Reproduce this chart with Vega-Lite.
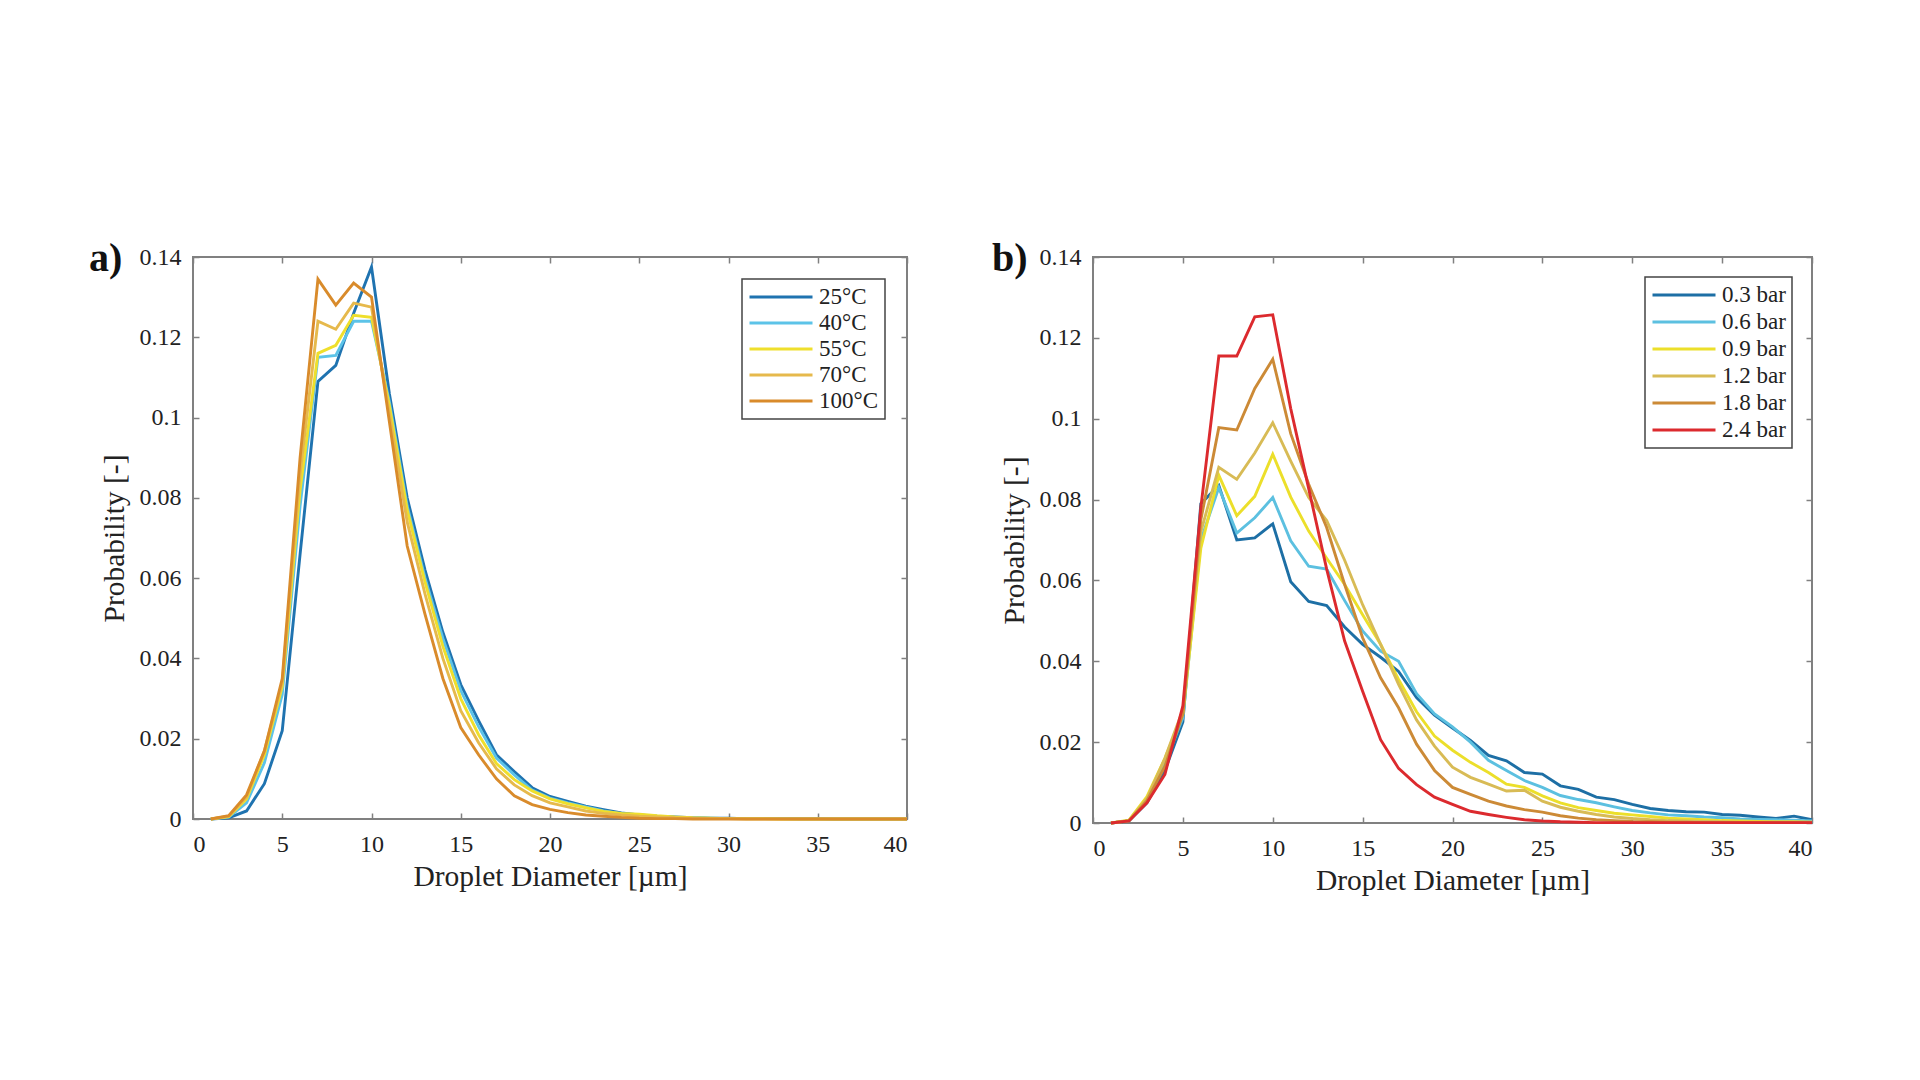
{
  "$schema": "https://vega.github.io/schema/vega-lite/v6.json",
  "background": "white",
  "padding": {"left": 88, "top": 238, "right": 0, "bottom": 0},
  "spacing": 77,
  "resolve": {"scale": {"color": "independent"}, "legend": {"color": "independent"}},
  "datasets": {
    "temp": [
      {"d":1,"p":0,"s":"25°C"},{"d":2,"p":0.0003,"s":"25°C"},{"d":3,"p":0.002,"s":"25°C"},{"d":4,"p":0.0088,"s":"25°C"},{"d":5,"p":0.022,"s":"25°C"},
      {"d":6,"p":0.066,"s":"25°C"},{"d":7,"p":0.109,"s":"25°C"},{"d":8,"p":0.113,"s":"25°C"},{"d":9,"p":0.126,"s":"25°C"},{"d":10,"p":0.1375,"s":"25°C"},
      {"d":11,"p":0.106,"s":"25°C"},{"d":12,"p":0.08,"s":"25°C"},{"d":13,"p":0.062,"s":"25°C"},{"d":14,"p":0.0465,"s":"25°C"},{"d":15,"p":0.0335,"s":"25°C"},
      {"d":16,"p":0.0245,"s":"25°C"},{"d":17,"p":0.016,"s":"25°C"},{"d":18,"p":0.0118,"s":"25°C"},{"d":19,"p":0.0078,"s":"25°C"},{"d":20,"p":0.0056,"s":"25°C"},
      {"d":21,"p":0.0044,"s":"25°C"},{"d":22,"p":0.0032,"s":"25°C"},{"d":23,"p":0.0023,"s":"25°C"},{"d":24,"p":0.0015,"s":"25°C"},{"d":25,"p":0.001,"s":"25°C"},
      {"d":26,"p":0.0007,"s":"25°C"},{"d":27,"p":0.0005,"s":"25°C"},{"d":28,"p":0.0003,"s":"25°C"},{"d":29,"p":0.0002,"s":"25°C"},{"d":30,"p":0.0002,"s":"25°C"},
      {"d":31,"p":0.0001,"s":"25°C"},{"d":32,"p":0.0001,"s":"25°C"},{"d":33,"p":0.0001,"s":"25°C"},{"d":34,"p":0.0001,"s":"25°C"},{"d":35,"p":0.0001,"s":"25°C"},
      {"d":36,"p":0,"s":"25°C"},{"d":37,"p":0,"s":"25°C"},{"d":38,"p":0,"s":"25°C"},{"d":39,"p":0,"s":"25°C"},{"d":40,"p":0,"s":"25°C"},

      {"d":1,"p":0,"s":"40°C"},{"d":2,"p":0.0005,"s":"40°C"},{"d":3,"p":0.004,"s":"40°C"},{"d":4,"p":0.014,"s":"40°C"},{"d":5,"p":0.031,"s":"40°C"},
      {"d":6,"p":0.078,"s":"40°C"},{"d":7,"p":0.115,"s":"40°C"},{"d":8,"p":0.1155,"s":"40°C"},{"d":9,"p":0.124,"s":"40°C"},{"d":10,"p":0.124,"s":"40°C"},
      {"d":11,"p":0.104,"s":"40°C"},{"d":12,"p":0.078,"s":"40°C"},{"d":13,"p":0.06,"s":"40°C"},{"d":14,"p":0.045,"s":"40°C"},{"d":15,"p":0.032,"s":"40°C"},
      {"d":16,"p":0.023,"s":"40°C"},{"d":17,"p":0.0152,"s":"40°C"},{"d":18,"p":0.011,"s":"40°C"},{"d":19,"p":0.0072,"s":"40°C"},{"d":20,"p":0.0052,"s":"40°C"},
      {"d":21,"p":0.004,"s":"40°C"},{"d":22,"p":0.003,"s":"40°C"},{"d":23,"p":0.002,"s":"40°C"},{"d":24,"p":0.0013,"s":"40°C"},{"d":25,"p":0.0009,"s":"40°C"},
      {"d":26,"p":0.0006,"s":"40°C"},{"d":27,"p":0.0004,"s":"40°C"},{"d":28,"p":0.0003,"s":"40°C"},{"d":29,"p":0.0002,"s":"40°C"},{"d":30,"p":0.0001,"s":"40°C"},
      {"d":31,"p":0.0001,"s":"40°C"},{"d":32,"p":0.0001,"s":"40°C"},{"d":33,"p":0.0001,"s":"40°C"},{"d":34,"p":0,"s":"40°C"},{"d":35,"p":0,"s":"40°C"},
      {"d":36,"p":0,"s":"40°C"},{"d":37,"p":0,"s":"40°C"},{"d":38,"p":0,"s":"40°C"},{"d":39,"p":0,"s":"40°C"},{"d":40,"p":0,"s":"40°C"},

      {"d":1,"p":0,"s":"55°C"},{"d":2,"p":0.0006,"s":"55°C"},{"d":3,"p":0.005,"s":"55°C"},{"d":4,"p":0.016,"s":"55°C"},{"d":5,"p":0.033,"s":"55°C"},
      {"d":6,"p":0.082,"s":"55°C"},{"d":7,"p":0.116,"s":"55°C"},{"d":8,"p":0.118,"s":"55°C"},{"d":9,"p":0.1255,"s":"55°C"},{"d":10,"p":0.125,"s":"55°C"},
      {"d":11,"p":0.103,"s":"55°C"},{"d":12,"p":0.077,"s":"55°C"},{"d":13,"p":0.059,"s":"55°C"},{"d":14,"p":0.043,"s":"55°C"},{"d":15,"p":0.03,"s":"55°C"},
      {"d":16,"p":0.021,"s":"55°C"},{"d":17,"p":0.0138,"s":"55°C"},{"d":18,"p":0.0098,"s":"55°C"},{"d":19,"p":0.007,"s":"55°C"},{"d":20,"p":0.005,"s":"55°C"},
      {"d":21,"p":0.0038,"s":"55°C"},{"d":22,"p":0.0028,"s":"55°C"},{"d":23,"p":0.0019,"s":"55°C"},{"d":24,"p":0.0014,"s":"55°C"},{"d":25,"p":0.0012,"s":"55°C"},
      {"d":26,"p":0.0008,"s":"55°C"},{"d":27,"p":0.0005,"s":"55°C"},{"d":28,"p":0.0003,"s":"55°C"},{"d":29,"p":0.0002,"s":"55°C"},{"d":30,"p":0.0001,"s":"55°C"},
      {"d":31,"p":0.0001,"s":"55°C"},{"d":32,"p":0.0001,"s":"55°C"},{"d":33,"p":0,"s":"55°C"},{"d":34,"p":0,"s":"55°C"},{"d":35,"p":0,"s":"55°C"},
      {"d":36,"p":0,"s":"55°C"},{"d":37,"p":0,"s":"55°C"},{"d":38,"p":0,"s":"55°C"},{"d":39,"p":0,"s":"55°C"},{"d":40,"p":0,"s":"55°C"},

      {"d":1,"p":0,"s":"70°C"},{"d":2,"p":0.0007,"s":"70°C"},{"d":3,"p":0.0055,"s":"70°C"},{"d":4,"p":0.017,"s":"70°C"},{"d":5,"p":0.034,"s":"70°C"},
      {"d":6,"p":0.086,"s":"70°C"},{"d":7,"p":0.124,"s":"70°C"},{"d":8,"p":0.122,"s":"70°C"},{"d":9,"p":0.1285,"s":"70°C"},{"d":10,"p":0.1275,"s":"70°C"},
      {"d":11,"p":0.101,"s":"70°C"},{"d":12,"p":0.074,"s":"70°C"},{"d":13,"p":0.056,"s":"70°C"},{"d":14,"p":0.04,"s":"70°C"},{"d":15,"p":0.027,"s":"70°C"},
      {"d":16,"p":0.019,"s":"70°C"},{"d":17,"p":0.0125,"s":"70°C"},{"d":18,"p":0.0085,"s":"70°C"},{"d":19,"p":0.0058,"s":"70°C"},{"d":20,"p":0.004,"s":"70°C"},
      {"d":21,"p":0.003,"s":"70°C"},{"d":22,"p":0.002,"s":"70°C"},{"d":23,"p":0.0014,"s":"70°C"},{"d":24,"p":0.001,"s":"70°C"},{"d":25,"p":0.0007,"s":"70°C"},
      {"d":26,"p":0.0005,"s":"70°C"},{"d":27,"p":0.0003,"s":"70°C"},{"d":28,"p":0.0002,"s":"70°C"},{"d":29,"p":0.0001,"s":"70°C"},{"d":30,"p":0.0001,"s":"70°C"},
      {"d":31,"p":0,"s":"70°C"},{"d":32,"p":0,"s":"70°C"},{"d":33,"p":0,"s":"70°C"},{"d":34,"p":0,"s":"70°C"},{"d":35,"p":0,"s":"70°C"},
      {"d":36,"p":0,"s":"70°C"},{"d":37,"p":0,"s":"70°C"},{"d":38,"p":0,"s":"70°C"},{"d":39,"p":0,"s":"70°C"},{"d":40,"p":0,"s":"70°C"},

      {"d":1,"p":0,"s":"100°C"},{"d":2,"p":0.0008,"s":"100°C"},{"d":3,"p":0.006,"s":"100°C"},{"d":4,"p":0.017,"s":"100°C"},{"d":5,"p":0.035,"s":"100°C"},
      {"d":6,"p":0.09,"s":"100°C"},{"d":7,"p":0.1345,"s":"100°C"},{"d":8,"p":0.128,"s":"100°C"},{"d":9,"p":0.1335,"s":"100°C"},{"d":10,"p":0.13,"s":"100°C"},
      {"d":11,"p":0.099,"s":"100°C"},{"d":12,"p":0.068,"s":"100°C"},{"d":13,"p":0.051,"s":"100°C"},{"d":14,"p":0.035,"s":"100°C"},{"d":15,"p":0.0228,"s":"100°C"},
      {"d":16,"p":0.016,"s":"100°C"},{"d":17,"p":0.01,"s":"100°C"},{"d":18,"p":0.0058,"s":"100°C"},{"d":19,"p":0.0036,"s":"100°C"},{"d":20,"p":0.0024,"s":"100°C"},
      {"d":21,"p":0.0016,"s":"100°C"},{"d":22,"p":0.001,"s":"100°C"},{"d":23,"p":0.0007,"s":"100°C"},{"d":24,"p":0.0004,"s":"100°C"},{"d":25,"p":0.0002,"s":"100°C"},
      {"d":26,"p":0.0001,"s":"100°C"},{"d":27,"p":0.0001,"s":"100°C"},{"d":28,"p":0,"s":"100°C"},{"d":29,"p":0,"s":"100°C"},{"d":30,"p":0,"s":"100°C"},
      {"d":31,"p":0,"s":"100°C"},{"d":32,"p":0,"s":"100°C"},{"d":33,"p":0,"s":"100°C"},{"d":34,"p":0,"s":"100°C"},{"d":35,"p":0,"s":"100°C"},
      {"d":36,"p":0,"s":"100°C"},{"d":37,"p":0,"s":"100°C"},{"d":38,"p":0,"s":"100°C"},{"d":39,"p":0,"s":"100°C"},{"d":40,"p":0,"s":"100°C"}
    ],
    "pres": [
      {"d":1,"p":0,"s":"0.3 bar"},{"d":2,"p":0.0005,"s":"0.3 bar"},{"d":3,"p":0.005,"s":"0.3 bar"},{"d":4,"p":0.013,"s":"0.3 bar"},{"d":5,"p":0.025,"s":"0.3 bar"},
      {"d":6,"p":0.079,"s":"0.3 bar"},{"d":7,"p":0.0835,"s":"0.3 bar"},{"d":8,"p":0.07,"s":"0.3 bar"},{"d":9,"p":0.0705,"s":"0.3 bar"},{"d":10,"p":0.074,"s":"0.3 bar"},
      {"d":11,"p":0.0597,"s":"0.3 bar"},{"d":12,"p":0.0548,"s":"0.3 bar"},{"d":13,"p":0.0538,"s":"0.3 bar"},{"d":14,"p":0.0485,"s":"0.3 bar"},{"d":15,"p":0.0442,"s":"0.3 bar"},
      {"d":16,"p":0.041,"s":"0.3 bar"},{"d":17,"p":0.0375,"s":"0.3 bar"},{"d":18,"p":0.031,"s":"0.3 bar"},{"d":19,"p":0.0267,"s":"0.3 bar"},{"d":20,"p":0.0235,"s":"0.3 bar"},
      {"d":21,"p":0.0204,"s":"0.3 bar"},{"d":22,"p":0.0167,"s":"0.3 bar"},{"d":23,"p":0.0154,"s":"0.3 bar"},{"d":24,"p":0.0125,"s":"0.3 bar"},{"d":25,"p":0.0121,"s":"0.3 bar"},
      {"d":26,"p":0.0092,"s":"0.3 bar"},{"d":27,"p":0.0083,"s":"0.3 bar"},{"d":28,"p":0.0064,"s":"0.3 bar"},{"d":29,"p":0.0058,"s":"0.3 bar"},{"d":30,"p":0.0046,"s":"0.3 bar"},
      {"d":31,"p":0.0036,"s":"0.3 bar"},{"d":32,"p":0.0031,"s":"0.3 bar"},{"d":33,"p":0.0028,"s":"0.3 bar"},{"d":34,"p":0.0027,"s":"0.3 bar"},{"d":35,"p":0.0021,"s":"0.3 bar"},
      {"d":36,"p":0.0019,"s":"0.3 bar"},{"d":37,"p":0.0015,"s":"0.3 bar"},{"d":38,"p":0.0011,"s":"0.3 bar"},{"d":39,"p":0.0017,"s":"0.3 bar"},{"d":40,"p":0.0008,"s":"0.3 bar"},

      {"d":1,"p":0,"s":"0.6 bar"},{"d":2,"p":0.0006,"s":"0.6 bar"},{"d":3,"p":0.006,"s":"0.6 bar"},{"d":4,"p":0.015,"s":"0.6 bar"},{"d":5,"p":0.026,"s":"0.6 bar"},
      {"d":6,"p":0.07,"s":"0.6 bar"},{"d":7,"p":0.083,"s":"0.6 bar"},{"d":8,"p":0.0717,"s":"0.6 bar"},{"d":9,"p":0.0755,"s":"0.6 bar"},{"d":10,"p":0.0805,"s":"0.6 bar"},
      {"d":11,"p":0.0698,"s":"0.6 bar"},{"d":12,"p":0.0635,"s":"0.6 bar"},{"d":13,"p":0.0628,"s":"0.6 bar"},{"d":14,"p":0.055,"s":"0.6 bar"},{"d":15,"p":0.0475,"s":"0.6 bar"},
      {"d":16,"p":0.0425,"s":"0.6 bar"},{"d":17,"p":0.04,"s":"0.6 bar"},{"d":18,"p":0.032,"s":"0.6 bar"},{"d":19,"p":0.027,"s":"0.6 bar"},{"d":20,"p":0.0238,"s":"0.6 bar"},
      {"d":21,"p":0.02,"s":"0.6 bar"},{"d":22,"p":0.0155,"s":"0.6 bar"},{"d":23,"p":0.013,"s":"0.6 bar"},{"d":24,"p":0.0105,"s":"0.6 bar"},{"d":25,"p":0.0088,"s":"0.6 bar"},
      {"d":26,"p":0.0068,"s":"0.6 bar"},{"d":27,"p":0.0058,"s":"0.6 bar"},{"d":28,"p":0.005,"s":"0.6 bar"},{"d":29,"p":0.004,"s":"0.6 bar"},{"d":30,"p":0.0031,"s":"0.6 bar"},
      {"d":31,"p":0.0025,"s":"0.6 bar"},{"d":32,"p":0.002,"s":"0.6 bar"},{"d":33,"p":0.0018,"s":"0.6 bar"},{"d":34,"p":0.0015,"s":"0.6 bar"},{"d":35,"p":0.0013,"s":"0.6 bar"},
      {"d":36,"p":0.001,"s":"0.6 bar"},{"d":37,"p":0.0009,"s":"0.6 bar"},{"d":38,"p":0.0008,"s":"0.6 bar"},{"d":39,"p":0.0007,"s":"0.6 bar"},{"d":40,"p":0.0005,"s":"0.6 bar"},

      {"d":1,"p":0,"s":"0.9 bar"},{"d":2,"p":0.0007,"s":"0.9 bar"},{"d":3,"p":0.0065,"s":"0.9 bar"},{"d":4,"p":0.016,"s":"0.9 bar"},{"d":5,"p":0.027,"s":"0.9 bar"},
      {"d":6,"p":0.068,"s":"0.9 bar"},{"d":7,"p":0.086,"s":"0.9 bar"},{"d":8,"p":0.076,"s":"0.9 bar"},{"d":9,"p":0.0808,"s":"0.9 bar"},{"d":10,"p":0.0912,"s":"0.9 bar"},
      {"d":11,"p":0.0806,"s":"0.9 bar"},{"d":12,"p":0.0722,"s":"0.9 bar"},{"d":13,"p":0.0655,"s":"0.9 bar"},{"d":14,"p":0.059,"s":"0.9 bar"},{"d":15,"p":0.0515,"s":"0.9 bar"},
      {"d":16,"p":0.0442,"s":"0.9 bar"},{"d":17,"p":0.0355,"s":"0.9 bar"},{"d":18,"p":0.0275,"s":"0.9 bar"},{"d":19,"p":0.0215,"s":"0.9 bar"},{"d":20,"p":0.018,"s":"0.9 bar"},
      {"d":21,"p":0.015,"s":"0.9 bar"},{"d":22,"p":0.0125,"s":"0.9 bar"},{"d":23,"p":0.0096,"s":"0.9 bar"},{"d":24,"p":0.0088,"s":"0.9 bar"},{"d":25,"p":0.0067,"s":"0.9 bar"},
      {"d":26,"p":0.005,"s":"0.9 bar"},{"d":27,"p":0.0038,"s":"0.9 bar"},{"d":28,"p":0.0031,"s":"0.9 bar"},{"d":29,"p":0.0024,"s":"0.9 bar"},{"d":30,"p":0.002,"s":"0.9 bar"},
      {"d":31,"p":0.0016,"s":"0.9 bar"},{"d":32,"p":0.0012,"s":"0.9 bar"},{"d":33,"p":0.001,"s":"0.9 bar"},{"d":34,"p":0.0008,"s":"0.9 bar"},{"d":35,"p":0.0006,"s":"0.9 bar"},
      {"d":36,"p":0.0005,"s":"0.9 bar"},{"d":37,"p":0.0004,"s":"0.9 bar"},{"d":38,"p":0.0003,"s":"0.9 bar"},{"d":39,"p":0.0003,"s":"0.9 bar"},{"d":40,"p":0.0002,"s":"0.9 bar"},

      {"d":1,"p":0,"s":"1.2 bar"},{"d":2,"p":0.0006,"s":"1.2 bar"},{"d":3,"p":0.006,"s":"1.2 bar"},{"d":4,"p":0.016,"s":"1.2 bar"},{"d":5,"p":0.028,"s":"1.2 bar"},
      {"d":6,"p":0.072,"s":"1.2 bar"},{"d":7,"p":0.088,"s":"1.2 bar"},{"d":8,"p":0.085,"s":"1.2 bar"},{"d":9,"p":0.0915,"s":"1.2 bar"},{"d":10,"p":0.099,"s":"1.2 bar"},
      {"d":11,"p":0.0895,"s":"1.2 bar"},{"d":12,"p":0.0805,"s":"1.2 bar"},{"d":13,"p":0.0748,"s":"1.2 bar"},{"d":14,"p":0.065,"s":"1.2 bar"},{"d":15,"p":0.054,"s":"1.2 bar"},
      {"d":16,"p":0.0442,"s":"1.2 bar"},{"d":17,"p":0.0343,"s":"1.2 bar"},{"d":18,"p":0.0255,"s":"1.2 bar"},{"d":19,"p":0.019,"s":"1.2 bar"},{"d":20,"p":0.0138,"s":"1.2 bar"},
      {"d":21,"p":0.0113,"s":"1.2 bar"},{"d":22,"p":0.0096,"s":"1.2 bar"},{"d":23,"p":0.0079,"s":"1.2 bar"},{"d":24,"p":0.0081,"s":"1.2 bar"},{"d":25,"p":0.0054,"s":"1.2 bar"},
      {"d":26,"p":0.0039,"s":"1.2 bar"},{"d":27,"p":0.0029,"s":"1.2 bar"},{"d":28,"p":0.0021,"s":"1.2 bar"},{"d":29,"p":0.0015,"s":"1.2 bar"},{"d":30,"p":0.0011,"s":"1.2 bar"},
      {"d":31,"p":0.0008,"s":"1.2 bar"},{"d":32,"p":0.0006,"s":"1.2 bar"},{"d":33,"p":0.0005,"s":"1.2 bar"},{"d":34,"p":0.0004,"s":"1.2 bar"},{"d":35,"p":0.0003,"s":"1.2 bar"},
      {"d":36,"p":0.0002,"s":"1.2 bar"},{"d":37,"p":0.0002,"s":"1.2 bar"},{"d":38,"p":0.0002,"s":"1.2 bar"},{"d":39,"p":0.0002,"s":"1.2 bar"},{"d":40,"p":0.0002,"s":"1.2 bar"},

      {"d":1,"p":0,"s":"1.8 bar"},{"d":2,"p":0.0005,"s":"1.8 bar"},{"d":3,"p":0.0055,"s":"1.8 bar"},{"d":4,"p":0.014,"s":"1.8 bar"},{"d":5,"p":0.027,"s":"1.8 bar"},
      {"d":6,"p":0.075,"s":"1.8 bar"},{"d":7,"p":0.0978,"s":"1.8 bar"},{"d":8,"p":0.0972,"s":"1.8 bar"},{"d":9,"p":0.1075,"s":"1.8 bar"},{"d":10,"p":0.1147,"s":"1.8 bar"},
      {"d":11,"p":0.0963,"s":"1.8 bar"},{"d":12,"p":0.0838,"s":"1.8 bar"},{"d":13,"p":0.0731,"s":"1.8 bar"},{"d":14,"p":0.059,"s":"1.8 bar"},{"d":15,"p":0.0458,"s":"1.8 bar"},
      {"d":16,"p":0.0359,"s":"1.8 bar"},{"d":17,"p":0.0285,"s":"1.8 bar"},{"d":18,"p":0.0195,"s":"1.8 bar"},{"d":19,"p":0.013,"s":"1.8 bar"},{"d":20,"p":0.0088,"s":"1.8 bar"},
      {"d":21,"p":0.0071,"s":"1.8 bar"},{"d":22,"p":0.0054,"s":"1.8 bar"},{"d":23,"p":0.0042,"s":"1.8 bar"},{"d":24,"p":0.0033,"s":"1.8 bar"},{"d":25,"p":0.0027,"s":"1.8 bar"},
      {"d":26,"p":0.0018,"s":"1.8 bar"},{"d":27,"p":0.0012,"s":"1.8 bar"},{"d":28,"p":0.0008,"s":"1.8 bar"},{"d":29,"p":0.0006,"s":"1.8 bar"},{"d":30,"p":0.0004,"s":"1.8 bar"},
      {"d":31,"p":0.0003,"s":"1.8 bar"},{"d":32,"p":0.0002,"s":"1.8 bar"},{"d":33,"p":0.0002,"s":"1.8 bar"},{"d":34,"p":0.0001,"s":"1.8 bar"},{"d":35,"p":0.0001,"s":"1.8 bar"},
      {"d":36,"p":0.0001,"s":"1.8 bar"},{"d":37,"p":0.0001,"s":"1.8 bar"},{"d":38,"p":0.0001,"s":"1.8 bar"},{"d":39,"p":0.0001,"s":"1.8 bar"},{"d":40,"p":0.0001,"s":"1.8 bar"},

      {"d":1,"p":0,"s":"2.4 bar"},{"d":2,"p":0.0005,"s":"2.4 bar"},{"d":3,"p":0.005,"s":"2.4 bar"},{"d":4,"p":0.012,"s":"2.4 bar"},{"d":5,"p":0.029,"s":"2.4 bar"},
      {"d":6,"p":0.078,"s":"2.4 bar"},{"d":7,"p":0.1155,"s":"2.4 bar"},{"d":8,"p":0.1155,"s":"2.4 bar"},{"d":9,"p":0.1252,"s":"2.4 bar"},{"d":10,"p":0.1257,"s":"2.4 bar"},
      {"d":11,"p":0.1025,"s":"2.4 bar"},{"d":12,"p":0.0827,"s":"2.4 bar"},{"d":13,"p":0.0628,"s":"2.4 bar"},{"d":14,"p":0.045,"s":"2.4 bar"},{"d":15,"p":0.0326,"s":"2.4 bar"},
      {"d":16,"p":0.0206,"s":"2.4 bar"},{"d":17,"p":0.0135,"s":"2.4 bar"},{"d":18,"p":0.0095,"s":"2.4 bar"},{"d":19,"p":0.0064,"s":"2.4 bar"},{"d":20,"p":0.0046,"s":"2.4 bar"},
      {"d":21,"p":0.0029,"s":"2.4 bar"},{"d":22,"p":0.0021,"s":"2.4 bar"},{"d":23,"p":0.0014,"s":"2.4 bar"},{"d":24,"p":0.0008,"s":"2.4 bar"},{"d":25,"p":0.0005,"s":"2.4 bar"},
      {"d":26,"p":0.0003,"s":"2.4 bar"},{"d":27,"p":0.0002,"s":"2.4 bar"},{"d":28,"p":0.0001,"s":"2.4 bar"},{"d":29,"p":0.0001,"s":"2.4 bar"},{"d":30,"p":0.0001,"s":"2.4 bar"},
      {"d":31,"p":0.0001,"s":"2.4 bar"},{"d":32,"p":0.0001,"s":"2.4 bar"},{"d":33,"p":0.0001,"s":"2.4 bar"},{"d":34,"p":0.0001,"s":"2.4 bar"},{"d":35,"p":0.0001,"s":"2.4 bar"},
      {"d":36,"p":0.0001,"s":"2.4 bar"},{"d":37,"p":0.0001,"s":"2.4 bar"},{"d":38,"p":0.0001,"s":"2.4 bar"},{"d":39,"p":0.0001,"s":"2.4 bar"},{"d":40,"p":0.0001,"s":"2.4 bar"}
    ]
  },
  "hconcat": [
    {
      "width": 714,
      "height": 562,
      "data": {"name": "temp"},
      "title": {"text": "a)", "anchor": "start", "frame": "group", "fontSize": 40, "fontWeight": "bold", "dx": -104, "dy": 38},
      "layer": [
        {
          "mark": {"type": "line", "strokeWidth": 2.9},
          "encoding": {
            "x": {"field": "d", "type": "quantitative", "scale": {"domain": [0, 40], "nice": false},
                  "axis": {"values": [0, 5, 10, 15, 20, 25, 30, 35, 40], "title": "Droplet Diameter [µm]"}},
            "y": {"field": "p", "type": "quantitative", "scale": {"domain": [0, 0.14], "nice": false},
                  "axis": {"values": [0, 0.02, 0.04, 0.06, 0.08, 0.1, 0.12, 0.14], "format": "~g", "title": "Probability [-]"}},
            "color": {"field": "s", "type": "nominal", "title": null,
                      "scale": {"domain": ["25°C", "40°C", "55°C", "70°C", "100°C"],
                                "range": ["#1f73b0", "#5cc3e8", "#efdf2c", "#e6b94c", "#d98b2b"]},
                      "legend": {"orient": "top-right", "offset": 22, "rowPadding": 2}}
          }
        },
        {
          "mark": {"type": "line", "opacity": 0},
          "encoding": {
            "x": {"field": "d", "type": "quantitative", "axis": {"orient": "top", "values": [0, 5, 10, 15, 20, 25, 30, 35, 40], "labels": false, "title": null}},
            "y": {"field": "p", "type": "quantitative", "axis": {"orient": "right", "values": [0, 0.02, 0.04, 0.06, 0.08, 0.1, 0.12, 0.14], "labels": false, "title": null}}
          }
        }
      ],
      "resolve": {"axis": {"x": "independent", "y": "independent"}}
    },
    {
      "width": 719,
      "height": 566,
      "data": {"name": "pres"},
      "title": {"text": "b)", "anchor": "start", "frame": "group", "fontSize": 40, "fontWeight": "bold", "dx": -101, "dy": 38},
      "layer": [
        {
          "mark": {"type": "line", "strokeWidth": 2.9},
          "encoding": {
            "x": {"field": "d", "type": "quantitative", "scale": {"domain": [0, 40], "nice": false},
                  "axis": {"values": [0, 5, 10, 15, 20, 25, 30, 35, 40], "title": "Droplet Diameter [µm]"}},
            "y": {"field": "p", "type": "quantitative", "scale": {"domain": [0, 0.14], "nice": false},
                  "axis": {"values": [0, 0.02, 0.04, 0.06, 0.08, 0.1, 0.12, 0.14], "format": "~g", "title": "Probability [-]"}},
            "color": {"field": "s", "type": "nominal", "title": null,
                      "scale": {"domain": ["0.3 bar", "0.6 bar", "0.9 bar", "1.2 bar", "1.8 bar", "2.4 bar"],
                                "range": ["#1d6fa5", "#5cc0e0", "#ecdf2a", "#d8bb55", "#cc8a36", "#dc2a2e"]},
                      "legend": {"orient": "top-right", "offset": 20, "rowPadding": 3}}
          }
        },
        {
          "mark": {"type": "line", "opacity": 0},
          "encoding": {
            "x": {"field": "d", "type": "quantitative", "axis": {"orient": "top", "values": [0, 5, 10, 15, 20, 25, 30, 35, 40], "labels": false, "title": null}},
            "y": {"field": "p", "type": "quantitative", "axis": {"orient": "right", "values": [0, 0.02, 0.04, 0.06, 0.08, 0.1, 0.12, 0.14], "labels": false, "title": null}}
          }
        }
      ],
      "resolve": {"axis": {"x": "independent", "y": "independent"}}
    }
  ],
  "config": {
    "font": "Liberation Serif",
    "view": {"stroke": "#808080", "strokeWidth": 2},
    "title": {"font": "Liberation Serif", "color": "#111111"},
    "axis": {
      "grid": false,
      "domain": false,
      "labelFont": "Liberation Serif",
      "labelFontSize": 24,
      "labelColor": "#222222",
      "titleFont": "Liberation Serif",
      "titleFontSize": 29.5,
      "titleFontWeight": "normal",
      "titleColor": "#222222",
      "tickColor": "#808080",
      "tickSize": -6,
      "tickWidth": 1.5
    },
    "axisX": {"titlePadding": 6, "labelPadding": 19},
    "axisY": {"titlePadding": 10, "labelPadding": 18},
    "legend": {
      "strokeColor": "#444444",
      "strokeWidth": 1.5,
      "fillColor": "white",
      "padding": 6,
      "symbolType": "M-1,0H5",
      "symbolSize": 441,
      "symbolStrokeWidth": 3,
      "labelFont": "Liberation Serif",
      "labelFontSize": 23,
      "labelColor": "#222222",
      "labelOffset": 47
    }
  }
}
